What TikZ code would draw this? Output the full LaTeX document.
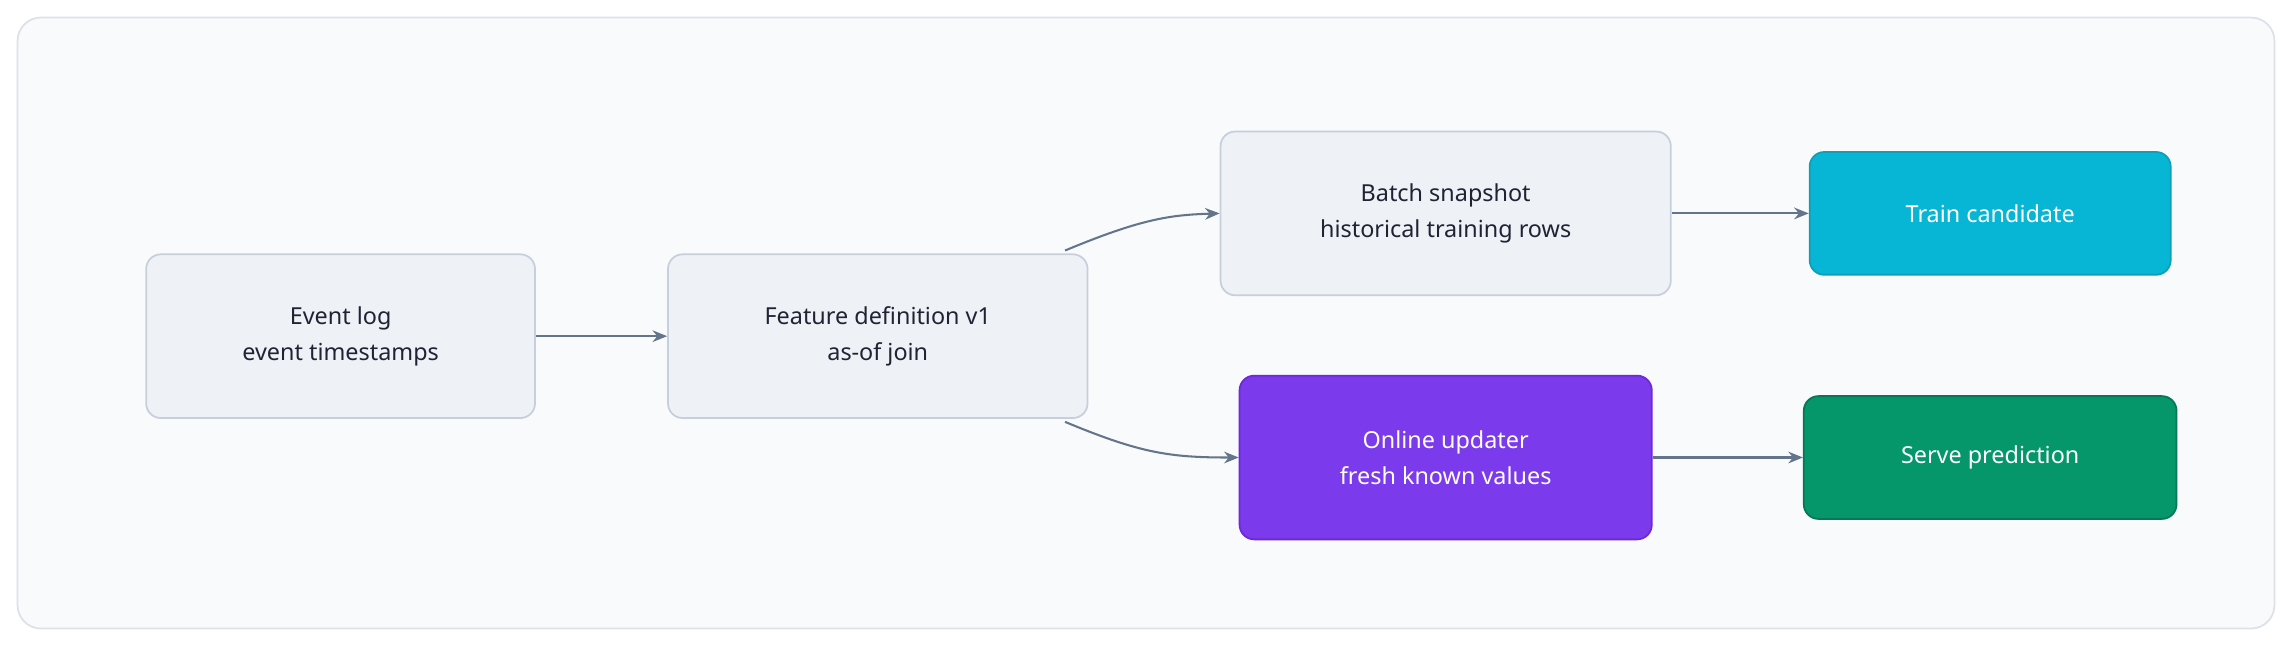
\documentclass[tikz,border=0pt]{standalone}
\usepackage{fontspec}
\setmainfont{Noto Sans}
\usetikzlibrary{arrows.meta}
\definecolor{panelbd}{HTML}{DDE1E8}
\definecolor{panelbg}{HTML}{F9FAFB}
\definecolor{boxbg}{HTML}{EEF1F6}
\definecolor{boxbd}{HTML}{C8CFDC}
\definecolor{txt}{HTML}{1E2433}
\definecolor{arr}{HTML}{64748B}
\definecolor{cyanbg}{HTML}{06B6D4}\definecolor{cyanbd}{HTML}{0E9FB8}
\definecolor{violetbg}{HTML}{7C3AED}\definecolor{violetbd}{HTML}{6D28D9}
\definecolor{greenbg}{HTML}{059669}\definecolor{greenbd}{HTML}{047857}
\begin{document}
\begin{tikzpicture}[x=0.5pt,y=-0.5pt,
  box/.style={draw=boxbd,fill=boxbg,rounded corners=5pt,line width=0.6pt,text=txt,align=center,font=\fontsize{8}{12.5}\selectfont,inner sep=0pt},
  cbox/.style={box,text=white},
  conn/.style={draw=arr,line width=0.7pt,-{Stealth[length=5pt,width=4pt]}}]
\useasboundingbox (0,0) rectangle (1568,442);
\draw[draw=panelbd,fill=panelbg,rounded corners=8pt,line width=0.6pt] (12,12) rectangle (1556,430);
\node[box,minimum width=133pt,minimum height=56pt] (ev) at (233,230) {Event log\\event timestamps};
\node[box,minimum width=143.5pt,minimum height=56pt] (fd) at (600.5,230) {Feature definition v1\\as-of join};
\node[box,minimum width=154pt,minimum height=56pt] (bs) at (989,146) {Batch snapshot\\historical training rows};
\node[cbox,fill=cyanbg,draw=cyanbd,minimum width=123.5pt,minimum height=42pt] (tc) at (1361.5,146) {Train candidate};
\node[cbox,fill=violetbg,draw=violetbd,minimum width=141pt,minimum height=56pt] (ou) at (989,313) {Online updater\\fresh known values};
\node[cbox,fill=greenbg,draw=greenbd,minimum width=127.5pt,minimum height=42pt] (sp) at (1361.5,313) {Serve prediction};
\draw[conn] (ev) -- (fd);
\draw[conn] (fd.north east) ++(-16,-2) coordinate (a1) .. controls (780,150) and (800,147) .. (bs.west);
\draw[conn] (fd.south east) ++(-16,2) coordinate (a2) .. controls (780,310) and (800,313) .. (ou.west);
\draw[conn] (bs) -- (tc);
\draw[conn] (ou) -- (sp);
\end{tikzpicture}
\end{document}
